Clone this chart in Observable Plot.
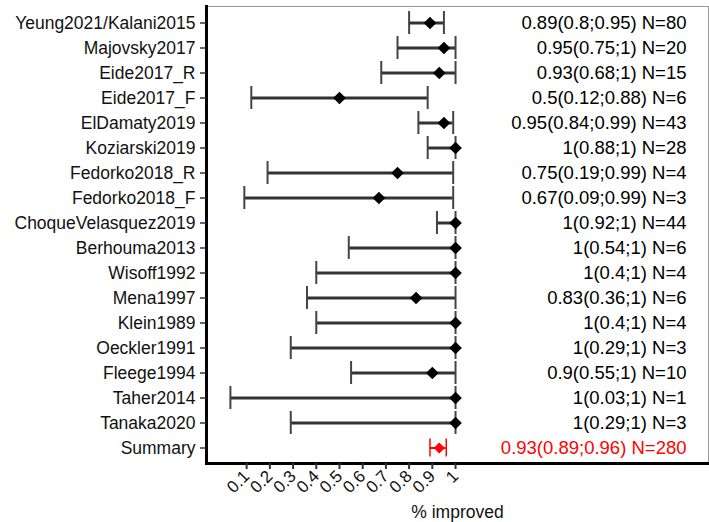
<!DOCTYPE html>
<html>
<head>
<meta charset="utf-8">
<script src="https://cdn.jsdelivr.net/npm/d3@7"></script>
<script src="https://cdn.jsdelivr.net/npm/@observablehq/plot@0.6"></script>
<style>
  html, body { margin: 0; padding: 0; background: #fff; }
  #chart svg { display: block; }
</style>
</head>
<body>
<div id="chart"></div>
<script>
const studies = ["Yeung2021/Kalani2015","Majovsky2017","Eide2017_R","Eide2017_F","ElDamaty2019","Koziarski2019","Fedorko2018_R","Fedorko2018_F","ChoqueVelasquez2019","Berhouma2013","Wisoff1992","Mena1997","Klein1989","Oeckler1991","Fleege1994","Taher2014","Tanaka2020","Summary"];
const estimates = [0.89,0.95,0.93,0.5,0.95,1,0.75,0.67,1,1,1,0.83,1,1,0.9,1,1,0.93];
const lowers = [0.8,0.75,0.68,0.12,0.84,0.88,0.19,0.09,0.92,0.54,0.4,0.36,0.4,0.29,0.55,0.03,0.29,0.89];
const uppers = [0.95,1,1,0.88,0.99,1,0.99,0.99,1,1,1,1,1,1,1,1,1,0.96];
const counts = [80,20,15,6,43,28,4,3,44,6,4,6,4,3,10,1,3,280];
const xTicks = [0.1,0.2,0.3,0.4,0.5,0.6,0.7,0.8,0.9,1];
const xDomain = [-0.073, 2.09];

const rows = studies.map((s, i) => ({
  study: s, est: estimates[i], lo: lowers[i], hi: uppers[i], n: counts[i],
  label: `${estimates[i]}(${lowers[i]};${uppers[i]}) N=${counts[i]}`
}));
const single = rows.filter(d => d.study !== "Summary");
const summary = rows.filter(d => d.study === "Summary");

const font = "'Liberation Sans', Arial, Helvetica, sans-serif";

const chart = Plot.plot({
  width: 709,
  height: 522,
  marginLeft: 206,
  marginRight: 1,
  marginTop: 6,
  marginBottom: 59,
  style: {fontFamily: font, background: "#fff", color: "#000"},
  x: {domain: xDomain, axis: null},
  y: {type: "band", domain: studies, paddingInner: 0.084, paddingOuter: 0.142, axis: null},
  marks: [
    Plot.frame({stroke: "#999", strokeWidth: 1}),
    Plot.frame({anchor: "left", stroke: "#000", strokeWidth: 3}),
    Plot.frame({anchor: "bottom", stroke: "#000", strokeWidth: 3}),
    Plot.axisY({tickSize: 6, tickPadding: 5, fontSize: 17.5, stroke: "#333", strokeWidth: 1.5, fill: "#111", label: null}),
    Plot.axisX({ticks: xTicks, tickFormat: d => `${d}`, tickRotate: -45, tickSize: 6, tickPadding: 4,
      fontSize: 17, stroke: "#333", strokeWidth: 2, fill: "#111", label: null}),
    Plot.text(["% improved"], {frameAnchor: "bottom", dy: 54, fontSize: 17.5, fill: "#111"}),
    Plot.ruleY(single, {y: "study", x1: "lo", x2: "hi", stroke: "#333", strokeWidth: 3}),
    Plot.tickX(single, {x: "lo", y: "study", stroke: "#444", strokeWidth: 2}),
    Plot.tickX(single, {x: "hi", y: "study", stroke: "#444", strokeWidth: 2}),
    Plot.dot(single, {x: "est", y: "study", symbol: "diamond2", r: 5.7, fill: "#000"}),
    Plot.ruleY(summary, {y: "study", x1: "lo", x2: "hi", stroke: "#ff0000", strokeWidth: 2}),
    Plot.tickX(summary, {x: "lo", y: "study", stroke: "#ff0000", strokeWidth: 1.5, insetTop: 2.5, insetBottom: 2.5}),
    Plot.tickX(summary, {x: "hi", y: "study", stroke: "#ff0000", strokeWidth: 1.5, insetTop: 2.5, insetBottom: 2.5}),
    Plot.dot(summary, {x: "est", y: "study", symbol: "diamond2", r: 5, fill: "#ff0000"}),
    Plot.text(single, {y: "study", text: "label", frameAnchor: "right", textAnchor: "end", dx: -22, fontSize: 18.5, fill: "#000"}),
    Plot.text(summary, {y: "study", text: "label", frameAnchor: "right", textAnchor: "end", dx: -22, fontSize: 18.5, fill: "#ff0000"})
  ]
});
document.getElementById("chart").appendChild(chart);
</script>
</body>
</html>
